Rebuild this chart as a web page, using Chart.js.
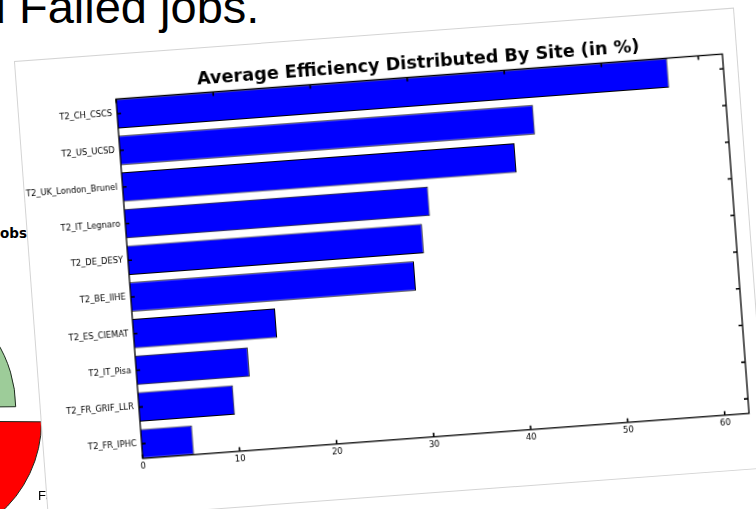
<!DOCTYPE html>
<html>
<head>
<meta charset="utf-8">
<script src="https://cdn.jsdelivr.net/npm/chart.js@4.4.1/dist/chart.umd.min.js"></script>
<style>
    html, body { margin: 0; padding: 0; width: 756px; height: 509px; overflow: hidden; background: #fff; }
    .slide-text { position: absolute; white-space: nowrap; color: #000; }
    #heading { left: -72.5px; top: -16.8px; font: 47px/47px "Liberation Sans", Arial, sans-serif; }
    #pie-title { left: -100px; width: 127px; text-align: right; top: 226.3px; font: bold 13.5px/14px "DejaVu Sans", sans-serif; }
    #pie-label { left: 38px; top: 489px; font: 13px/13px "Liberation Sans", Arial, sans-serif; }
    #pie-wrap { position: absolute; left: -252.7px; top: 261.1px; width: 300px; height: 300px; }
    /* the pasted (tilted) matplotlib picture */
    #panel {
        position: absolute; left: 15px; top: 62px; width: 720px; height: 460px;
        background: #fff; box-shadow: 0 0 0 1px #d4d4d4;
        transform-origin: 0 0; transform: rotate(-4.25deg);
    }
    /* canvas sticks out a little on the left so the longest site name is not cut */
    #panel canvas { position: absolute; left: -8px; top: 0; }
</style>
</head>
<body>
<div class="slide-text" id="heading">and Failed jobs.</div>
<div class="slide-text" id="pie-title">Jobs</div>
<div id="pie-wrap"><canvas id="jobs-pie" width="300" height="300"></canvas></div>
<div class="slide-text" id="pie-label">Failed</div>

<div id="panel"><canvas id="site-efficiency" width="728" height="460"></canvas></div>

<script>
// data
const chartTitle = 'Average Efficiency Distributed By Site (in %)';
const sites = [
    'T2_CH_CSCS', 'T2_US_UCSD', 'T2_UK_London_Brunel', 'T2_IT_Legnaro', 'T2_DE_DESY',
    'T2_BE_IIHE', 'T2_ES_CIEMAT', 'T2_IT_Pisa', 'T2_FR_GRIF_LLR', 'T2_FR_IPHC'
];
const efficiency = [56.8, 42.7, 40.5, 31.3, 30.4, 29.3, 14.7, 11.6, 9.8, 5.3];
const xTicks = [0, 10, 20, 30, 40, 50, 60];
const xMax = 62.5;

const jobLabels = ['Failed', 'Succeeded'];
const jobCounts = [14, 86];
const jobColors = ['#ff0000', '#9dcc99'];

const TICK_LEN = 4;
const FONT = '"DejaVu Sans", sans-serif';

// matplotlib style: black frame, ticks pointing inwards on all four sides, title over the axes
const axesFrame = {
    id: 'axesFrame',
    afterDatasetsDraw(chart) {
        const { ctx, chartArea: a, scales: { x, y } } = chart;
        ctx.save();
        ctx.strokeStyle = '#000';
        ctx.lineWidth = 1.3;
        ctx.strokeRect(a.left, a.top, a.right - a.left, a.bottom - a.top);

        ctx.lineWidth = 1.6;
        ctx.beginPath();
        xTicks.forEach(v => {
            const px = x.getPixelForValue(v);
            ctx.moveTo(px, a.bottom); ctx.lineTo(px, a.bottom - TICK_LEN);
            ctx.moveTo(px, a.top); ctx.lineTo(px, a.top + TICK_LEN);
        });
        sites.forEach((_, i) => {
            const py = y.getPixelForValue(i);
            ctx.moveTo(a.left, py); ctx.lineTo(a.left + TICK_LEN, py);
            ctx.moveTo(a.right, py); ctx.lineTo(a.right - TICK_LEN, py);
        });
        ctx.stroke();

        ctx.fillStyle = '#000';
        ctx.font = 'bold 17.7px ' + FONT;
        ctx.textAlign = 'center';
        ctx.textBaseline = 'alphabetic';
        ctx.fillText(chartTitle, (a.left + a.right) / 2, a.top - 9);
        ctx.restore();
    }
};

new Chart(document.getElementById('site-efficiency'), {
    type: 'bar',
    data: {
        datasets: [{
            data: sites.map((s, i) => ({ x: efficiency[i], y: i })),
            backgroundColor: '#0000ff',
            borderColor: '#000',
            borderWidth: 1,
            barPercentage: 0.8,
            categoryPercentage: 1.0
        }]
    },
    options: {
        indexAxis: 'y',
        responsive: false,
        animation: false,
        events: [],
        layout: { padding: { left: 0, top: 44.5, right: 14, bottom: 35.2 } },
        plugins: { legend: { display: false }, tooltip: { enabled: false } },
        scales: {
            x: {
                type: 'linear',
                min: 0,
                max: xMax,
                afterFit: s => { s.height = 20; },
                afterBuildTicks: s => { s.ticks = xTicks.map(v => ({ value: v })); },
                grid: { display: false, drawTicks: false },
                border: { display: false },
                ticks: { color: '#000', padding: 3, font: { family: FONT, size: 8.5 } }
            },
            y: {
                type: 'linear',
                offset: false,
                reverse: true,
                min: -0.4,
                max: sites.length - 0.6,
                afterFit: s => { s.width = 106; },
                afterBuildTicks: s => { s.ticks = sites.map((_, i) => ({ value: i })); },
                grid: { display: false, drawTicks: false },
                border: { display: false },
                ticks: {
                    color: '#000', padding: 5, autoSkip: false,
                    font: { family: FONT, size: 8.3 },
                    callback: v => sites[v]
                }
            }
        }
    },
    plugins: [axesFrame]
});

// the exploded pie peeking out from under the picture
new Chart(document.getElementById('jobs-pie'), {
    type: 'pie',
    data: {
        labels: jobLabels,
        datasets: [{
            data: jobCounts,
            backgroundColor: jobColors,
            borderColor: '#1e2a1e',
            borderWidth: 1,
            offset: [93.6, 29.2]
        }]
    },
    options: {
        responsive: false,
        animation: false,
        events: [],
        rotation: 90,
        radius: 118,
        plugins: { legend: { display: false }, tooltip: { enabled: false } }
    }
});
</script>
</body>
</html>
